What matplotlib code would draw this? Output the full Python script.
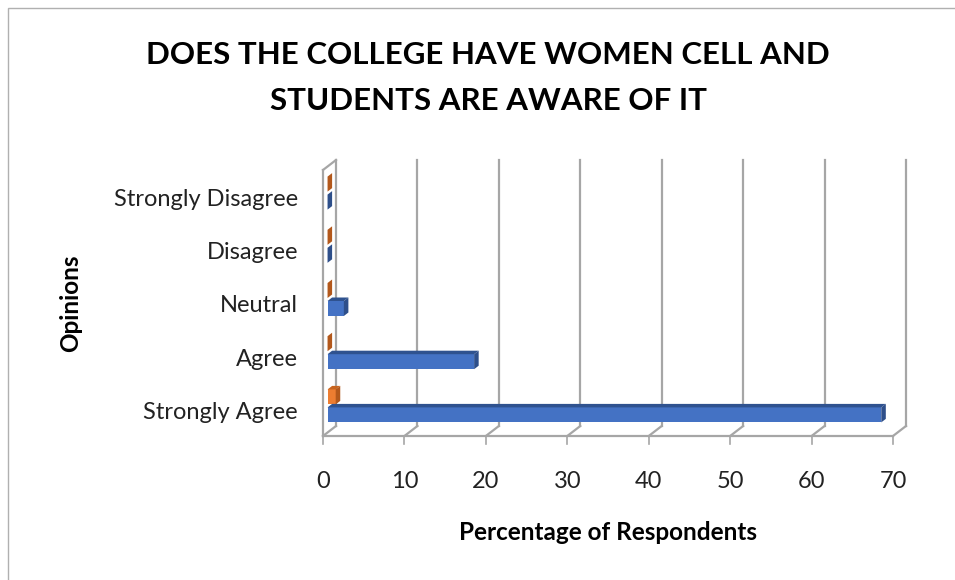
import numpy as np
import matplotlib
matplotlib.use("Agg")
import matplotlib.pyplot as plt
from matplotlib.patches import Polygon, Rectangle

# data
categories = ["Strongly Agree", "Agree", "Neutral", "Disagree", "Strongly Disagree"]
blue_vals = [68, 18, 2, 0, 0]
orange_vals = [1, 0, 0, 0, 0]
x_ticks = [0, 10, 20, 30, 40, 50, 60, 70]

title = "DOES THE COLLEGE HAVE WOMEN CELL AND\nSTUDENTS ARE AWARE OF IT"
xlabel = "Percentage of Respondents"
ylabel = "Opinions"

FONT = "Lato"
W, H = 955, 580
fig = plt.figure(figsize=(W / 100, H / 100), dpi=100)

# front plane of the 3d box, in pixels
px_l, px_r, px_t, px_b = 323, 893, 170, 436
ax = fig.add_axes([px_l / W, 1 - px_b / H, (px_r - px_l) / W, (px_b - px_t) / H])
xmax = x_ticks[-1]
ncat = len(categories)
ax.set_xlim(0, xmax)
ax.set_ylim(0, ncat)
ax.axis("off")

ux = (px_r - px_l) / xmax          # px per x unit
uy = (px_b - px_t) / ncat          # px per category
dxb, dyb = 13 / ux, 10 / uy        # wall depth
grid_col = "#a6a6a6"
lw = 1.6

# back wall gridlines + floor diagonals
for t in x_ticks:
    ax.plot([t + dxb, t + dxb], [dyb, ncat + dyb], color=grid_col, lw=lw, clip_on=False, zorder=1)
    ax.plot([t, t + dxb], [0, dyb], color=grid_col, lw=lw, clip_on=False, zorder=1)
    ax.plot([t, t], [0, -8 / uy], color=grid_col, lw=1.2, clip_on=False, zorder=1)
# floor front edge and left wall
ax.plot([0, xmax], [0, 0], color=grid_col, lw=lw, clip_on=False, zorder=1)
ax.plot([0, 0], [0, ncat], color=grid_col, lw=lw, clip_on=False, zorder=1)
ax.plot([0, dxb], [ncat, ncat + dyb], color=grid_col, lw=lw, clip_on=False, zorder=1)

# bars with a little depth
ox, oy = 0.35 * dxb, 0.35 * dyb
ddx, ddy = 0.35 * dxb, 0.35 * dyb
h = 15 / uy
g = 3 / uy


def bar3d(y0, val, front, top, side, z):
    x0 = ox
    x1 = ox + val
    y1 = y0 + h
    if val > 0:
        ax.add_patch(Rectangle((x0, y0), val, h, facecolor=front, edgecolor="none", zorder=z, clip_on=False))
        ax.add_patch(Polygon([(x0, y1), (x1, y1), (x1 + ddx, y1 + ddy), (x0 + ddx, y1 + ddy)],
                             closed=True, facecolor=top, edgecolor="none", zorder=z, clip_on=False))
    ax.add_patch(Polygon([(x1, y0), (x1, y1), (x1 + ddx, y1 + ddy), (x1 + ddx, y0 + ddy)],
                         closed=True, facecolor=side, edgecolor="none", zorder=z, clip_on=False))


for i in range(ncat):
    c = i + 0.5 + oy
    bar3d(c + g / 2, orange_vals[i], "#ed7d31", "#c7641f", "#b3581b", 2)
    bar3d(c - g / 2 - h, blue_vals[i], "#4472c4", "#2f528f", "#2e4f8a", 3)

# labels
tick_fs = 17
for t in x_ticks:
    ax.text(t, -46 / uy, str(t), ha="center", va="center", fontsize=tick_fs, family=FONT, color="#222222")
for i, cat in enumerate(categories):
    ax.text(-25 / ux, i + 0.5 - 3 / uy, cat, ha="right", va="center", fontsize=tick_fs, family=FONT,
            color="#222222")

fig.text(488 / W, 1 - 78 / H, title, ha="center", va="center", fontsize=22.5, fontweight="bold",
         family=FONT, linespacing=1.75)
fig.text(608 / W, 1 - 533 / H, xlabel, ha="center", va="center", fontsize=17.5, fontweight="bold", family=FONT)
fig.text(71 / W, 1 - 303 / H, ylabel, ha="center", va="center", rotation=90, fontsize=17.5,
         fontweight="bold", family=FONT)

# chart border
fig.patches.append(Rectangle((8 / W, -0.1), 1.2, 1 - 8 / H + 0.1, transform=fig.transFigure,
                             fill=False, edgecolor="#b0b0b0", lw=1.0))

fig.savefig("out.png", dpi=100)
